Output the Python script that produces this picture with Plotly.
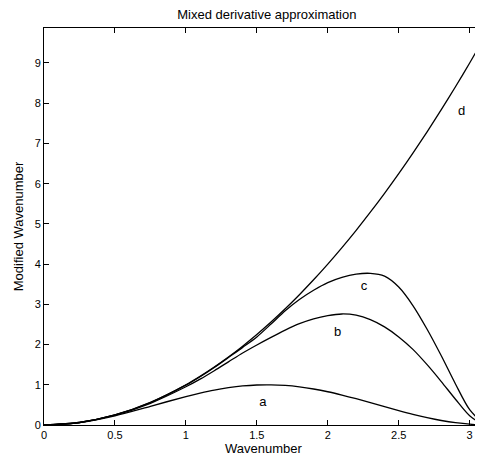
import plotly.graph_objects as go

k = [0, 0.25, 0.5, 0.75, 1.0, 1.1, 1.2, 1.3, 1.4, 1.5, 1.6, 1.7, 1.8, 1.9, 2.0,
     2.1, 2.2, 2.3, 2.4, 2.5, 2.6, 2.7, 2.8, 2.9, 3.0, 3.1, 3.1416]
curve_a = [0, 0.061, 0.230, 0.465, 0.708, 0.794, 0.869, 0.927, 0.971, 0.995,
           0.999, 0.983, 0.948, 0.895, 0.827, 0.744, 0.653, 0.555, 0.454, 0.358,
           0.266, 0.183, 0.112, 0.057, 0.020, 0.002, 0]
curve_b = [0, 0.062, 0.245, 0.54, 0.95, 1.14, 1.35, 1.57, 1.79, 1.99,
           2.18, 2.36, 2.52, 2.64, 2.72, 2.76, 2.73, 2.62, 2.44, 2.19,
           1.88, 1.50, 1.08, 0.64, 0.23, 0.02, 0]
curve_c = [0, 0.0625, 0.25, 0.56, 0.99, 1.20, 1.43, 1.68, 1.93, 2.19,
           2.51, 2.84, 3.12, 3.35, 3.54, 3.67, 3.75, 3.77, 3.70, 3.43,
           2.97, 2.38, 1.72, 1.02, 0.38, 0.04, 0]
curve_d = [0, 0.0625, 0.25, 0.5625, 1.0, 1.21, 1.44, 1.69, 1.96, 2.25,
           2.56, 2.89, 3.24, 3.61, 4.0, 4.41, 4.84, 5.29, 5.76, 6.25,
           6.76, 7.29, 7.84, 8.41, 9.0, 9.61, 9.87]

labels = ["a", "b", "c", "d"]
label_x = [1.543, 2.07, 2.255, 2.944]
label_y = [0.55, 2.29, 3.43, 7.79]

x_ticks = [0, 0.5, 1, 1.5, 2, 2.5, 3]
x_ticktext = ["0", "0.5", "1", "1.5", "2", "2.5", "3"]
y_ticks = [0, 1, 2, 3, 4, 5, 6, 7, 8, 9]

fig = go.Figure()
for ys in (curve_a, curve_b, curve_c, curve_d):
    fig.add_trace(go.Scatter(x=k, y=ys, mode="lines",
                             line=dict(color="black", width=1.3, shape="spline", smoothing=0.8),
                             showlegend=False, hoverinfo="skip", cliponaxis=True))

fig.add_trace(go.Scatter(x=label_x, y=label_y, mode="text", text=labels,
                         textfont=dict(size=13, color="black", family="Liberation Sans, Arial"),
                         showlegend=False, hoverinfo="skip"))

fig.update_layout(
    width=475, height=448,
    margin=dict(l=36, r=0, t=20, b=31, autoexpand=False),
    paper_bgcolor="white", plot_bgcolor="white",
    font=dict(family="Liberation Sans, Arial", size=11, color="black"),
    title=dict(text="Mixed derivative approximation", x=0.545, xanchor="center",
               y=0.986, yanchor="middle", font=dict(size=13)),
)
fig.update_xaxes(range=[0, 3.094], tickvals=x_ticks, ticktext=x_ticktext,
                 ticks="inside", ticklen=5, tickcolor="black", showline=True,
                 linecolor="black", linewidth=1, mirror="ticks", showgrid=False,
                 zeroline=False, automargin=False,
                 title=dict(text="Wavenumber", font=dict(size=13), standoff=2))
fig.update_yaxes(range=[0, 9.87], tickvals=y_ticks, ticks="inside", ticklen=5,
                 tickcolor="black", showline=True, linecolor="black", linewidth=1,
                 mirror=False, showgrid=False, zeroline=False, automargin=False,
                 title=dict(text="Modified Wavenumber", font=dict(size=13), standoff=8))

fig.write_html("out.html")
